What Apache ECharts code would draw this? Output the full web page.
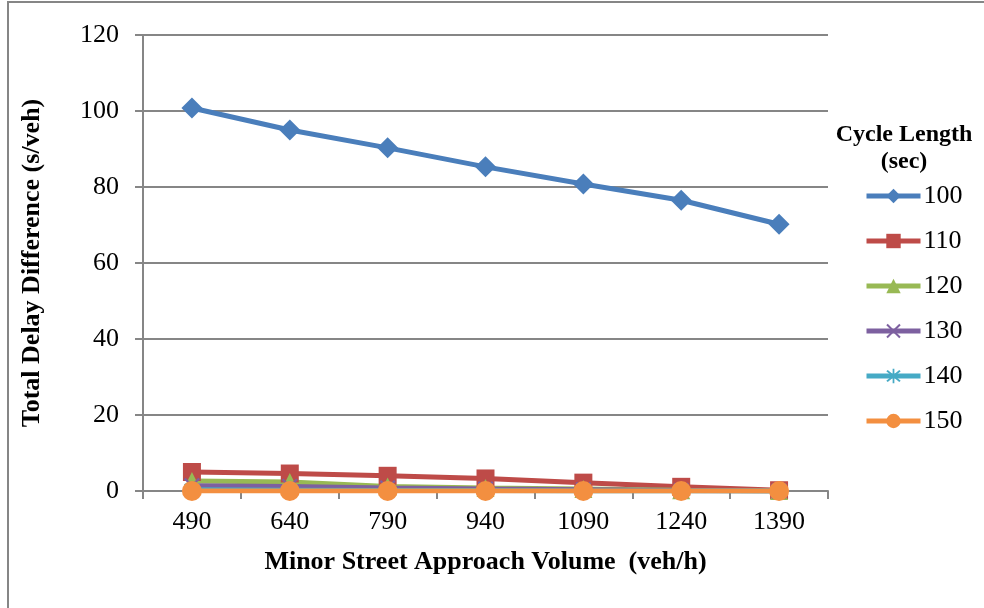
<!DOCTYPE html>
<html>
<head>
<meta charset="utf-8">
<script src="https://cdn.jsdelivr.net/npm/echarts@6/dist/echarts.min.js"></script>
<style>
  html, body { margin: 0; padding: 0; background: #fff; }
  #main { width: 984px; height: 608px; }
</style>
</head>
<body>
<div id="main"></div>
<script type="text/javascript">
  // data
  var volumes = ['490', '640', '790', '940', '1090', '1240', '1390'];
  var cycle100 = [100.8, 95.0, 90.3, 85.3, 80.8, 76.5, 70.2];
  var cycle110 = [5.0, 4.6, 4.0, 3.3, 2.2, 1.1, 0.2];
  var cycle120 = [2.6, 2.4, 1.2, 0.8, 0.5, 0.2, 0.0];
  var cycle130 = [1.4, 1.2, 0.8, 0.5, 0.3, 0.1, 0.0];
  var cycle140 = [0.3, 0.2, 0.1, 0.1, 0.0, 0.0, 0.0];
  var cycle150 = [0.0, 0.0, 0.0, 0.0, 0.0, 0.0, 0.0];

  var font = '"Liberation Serif", "Times New Roman", serif';
  var gray = '#868686';

  var crossPath = 'path://M0,1L1,0L5,4L9,0L10,1L6,5L10,9L9,10L5,6L1,10L0,9L4,5Z';
  var starPath = 'path://M0,1L1,0L5,4L9,0L10,1L6,5L10,9L9,10L5,6L1,10L0,9L4,5Z M4.4,-1L5.6,-1L5.6,11L4.4,11Z';

  function mk(name, data, color, symbol, size) {
    return {
      name: name,
      type: 'line',
      data: data,
      symbol: symbol,
      symbolSize: size,
      showAllSymbol: true,
      lineStyle: { color: color, width: 5 },
      itemStyle: { color: color },
      emphasis: { disabled: true }
    };
  }

  var myChart = echarts.init(document.getElementById('main'));

  var option = {
    animation: false,
    textStyle: { fontFamily: font },
    grid: { left: 143, right: 156, top: 35, bottom: 117 },
    legend: {
      orient: 'vertical',
      left: 859,
      top: 178,
      itemWidth: 54,
      itemHeight: 18,
      itemGap: 19,
      lineStyle: { width: 5 },
      textStyle: { fontFamily: font, fontSize: 26, color: '#000', padding: [0, 0, 0, -2] },
      data: ['100', '110', '120', '130', '140', '150']
    },
    graphic: [
      { type: 'text', x: 904, y: 121,
        style: { text: 'Cycle Length\n(sec)', align: 'center',
                 font: 'bold 24px ' + font, fill: '#000', lineHeight: 27 } },
      { type: 'line', shape: { x1: 8, y1: 2, x2: 8, y2: 608 },
        style: { stroke: gray, lineWidth: 2 } },
      { type: 'line', shape: { x1: 7, y1: 2, x2: 984, y2: 2 },
        style: { stroke: gray, lineWidth: 2 } }
    ],
    xAxis: {
      type: 'category',
      data: volumes,
      name: 'Minor Street Approach Volume  (veh/h)',
      nameLocation: 'middle',
      nameGap: 58,
      nameTextStyle: { fontFamily: font, fontSize: 26, fontWeight: 'bold', color: '#000' },
      axisLine: { lineStyle: { color: gray, width: 2 } },
      axisTick: { show: true, length: 8, lineStyle: { color: gray, width: 2 } },
      axisLabel: { fontFamily: font, fontSize: 26, color: '#000', margin: 18 }
    },
    yAxis: {
      type: 'value',
      min: 0,
      max: 120,
      interval: 20,
      name: 'Total Delay Difference (s/veh)',
      nameLocation: 'middle',
      nameGap: 98,
      nameTextStyle: { fontFamily: font, fontSize: 26, fontWeight: 'bold', color: '#000' },
      axisLine: { show: true, lineStyle: { color: gray, width: 2 } },
      axisTick: { show: true, length: 8, lineStyle: { color: gray, width: 2 } },
      splitLine: { lineStyle: { color: gray, width: 2 } },
      axisLabel: { fontFamily: font, fontSize: 26, color: '#000', margin: 24 }
    },
    series: [
      mk('100', cycle100, '#4A7EBB', 'diamond', 21),
      mk('110', cycle110, '#BE4B48', 'rect', 18),
      mk('120', cycle120, '#98B954', 'triangle', 18),
      mk('130', cycle130, '#7D60A0', crossPath, 16),
      mk('140', cycle140, '#46AAC5', starPath, 16),
      mk('150', cycle150, '#F38F40', 'circle', 20)
    ]
  };

  myChart.setOption(option);
</script>
</body>
</html>
